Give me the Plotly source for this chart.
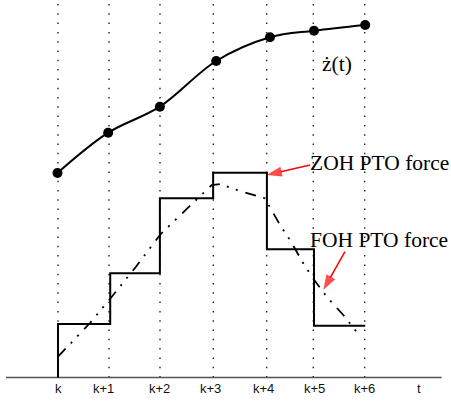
import plotly.graph_objects as go

# sample instants (grid lines) in sample units
grid_t = [0, 0.996, 1.992, 3.033, 4.076, 4.986, 5.990]
tick_pos = [0, 0.898, 1.982, 2.988, 4.018, 5.010, 5.986, 7.057]
tick_labels = ["k", "k+1", "k+2", "k+3", "k+4", "k+5", "k+6", "t"]

# velocity samples z-dot(t)
zdot_t = [-0.01, 0.98, 1.99, 3.09, 4.14, 5.0, 6.0]
zdot_v = [20.45, 24.48, 27.08, 31.65, 34.02, 34.68, 35.25]

# ZOH PTO force (step values held between samples)
zoh_t = [0, 0, 1.02, 1.99, 3.03, 4.08, 5.0, 6.0]
zoh_v = [0, 5.35, 10.42, 17.92, 20.48, 12.82, 5.18, 5.18]

# FOH PTO force
foh_t = [0, 0.625, 1.035, 1.523, 2.006, 2.740, 3.002, 3.164, 3.555, 4.043,
         4.336, 4.531, 4.791, 4.975, 5.248, 5.572, 5.865]
foh_v = [2.08, 5.45, 7.98, 11.08, 14.35, 18.02, 19.25, 19.35, 18.65, 17.92,
         15.25, 13.75, 11.42, 9.95, 8.08, 6.25, 4.35]

# annotation arrows: (tail, tip)
zoh_arrow_t = [4.922, 4.076]
zoh_arrow_v = [21.25, 20.25]
foh_arrow_t = [5.605, 5.182]
foh_arrow_v = [12.58, 8.75]

X_RANGE = [-58 / 51.2, (451 - 58) / 51.2]
Y_RANGE = [-2.35, 37.75]
AXIS_EXT = [-1.016, 7.494]

fig = go.Figure()

# dotted grid lines
gx, gy = [], []
for t in grid_t:
    gx += [t, t, None]
    gy += [0, Y_RANGE[1], None]
fig.add_trace(go.Scatter(x=gx, y=gy, mode="lines",
                         line=dict(color="#222", width=1.4, dash="1.5px,7.8px"),
                         hoverinfo="skip"))

# time axis
fig.add_trace(go.Scatter(x=AXIS_EXT, y=[0, 0], mode="lines",
                         line=dict(color="#555", width=1.5), hoverinfo="skip"))

# z-dot curve
fig.add_trace(go.Scatter(x=zdot_t, y=zdot_v, mode="lines+markers",
                         line=dict(color="black", width=2, shape="spline", smoothing=1),
                         marker=dict(color="black", size=10)))

# ZOH
fig.add_trace(go.Scatter(x=zoh_t, y=zoh_v, mode="lines",
                         line=dict(color="black", width=2, shape="hv")))

# FOH
fig.add_trace(go.Scatter(x=foh_t, y=foh_v, mode="lines",
                         line=dict(color="black", width=1.8,
                                   dash="11px,7.5px,2px,7.5px,2px,8px")))

# arrows
for at, av in [(zoh_arrow_t, zoh_arrow_v), (foh_arrow_t, foh_arrow_v)]:
    fig.add_trace(go.Scatter(x=at, y=av, mode="lines+markers",
                             line=dict(color="red", width=1.5),
                             marker=dict(symbol="arrow", size=[0, 16], color="red",
                                         angleref="previous", line=dict(width=0))))

serif = "Liberation Serif, Times New Roman, serif"
anns = [
    dict(x=4.89, y=21.42, text="ZOH PTO force", xanchor="left", yanchor="middle",
         font=dict(family=serif, size=21.5, color="black")),
    dict(x=4.89, y=13.72, text="FOH PTO force", xanchor="left", yanchor="middle",
         font=dict(family=serif, size=21.5, color="black")),
    dict(x=5.443, y=31.4, text="ż(t)", xanchor="center", yanchor="middle",
         font=dict(family=serif, size=21.5, color="black")),
]
for p, lab in zip(tick_pos, tick_labels):
    anns.append(dict(x=p, y=-1.1, text=lab, xanchor="center", yanchor="middle",
                     font=dict(family="Liberation Sans, Arial, sans-serif", size=13,
                               color="#111")))
for a in anns:
    a.update(showarrow=False, xref="x", yref="y")

fig.update_layout(
    width=451, height=401,
    margin=dict(l=0, r=0, t=0, b=0),
    paper_bgcolor="white", plot_bgcolor="white",
    showlegend=False,
    xaxis=dict(range=X_RANGE, visible=False, fixedrange=True),
    yaxis=dict(range=Y_RANGE, visible=False, fixedrange=True),
    annotations=anns,
)

fig.write_html("out.html")
